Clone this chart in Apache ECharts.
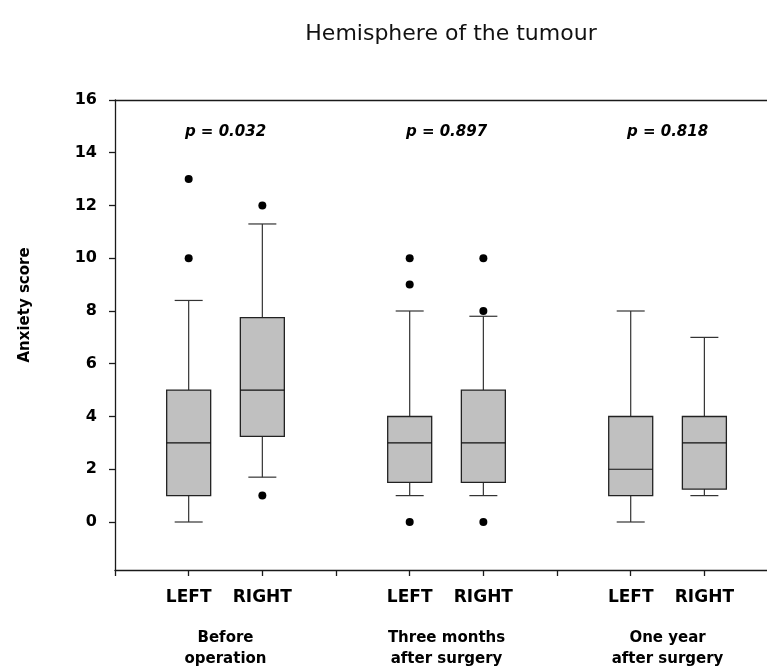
<!DOCTYPE html>
<html>
<head>
<meta charset="utf-8">
<script src="https://cdn.jsdelivr.net/npm/echarts@6/dist/echarts.min.js"></script>
<style>
  html, body { margin: 0; padding: 0; background: #fff; }
  #chart { width: 767px; height: 672px; }
</style>
</head>
<body>
<div id="chart"></div>
<script>
// box positions on the x axis and their labels
const xPos = [1, 2, 4, 5, 7, 8]
const hemis = ['LEFT', 'RIGHT', 'LEFT', 'RIGHT', 'LEFT', 'RIGHT']
const whiskerLow = [0, 1.7, 1, 1, 0, 1]
const q1 = [1, 3.25, 1.5, 1.5, 1, 1.25]
const median = [3, 5, 3, 3, 2, 3]
const q3 = [5, 7.75, 4, 5, 4, 4]
const whiskerHigh = [8.4, 11.3, 8, 7.8, 8, 7]
const outliers = [[1, 13], [1, 10], [2, 12], [2, 1], [4, 10], [4, 9], [4, 0], [5, 10], [5, 8], [5, 0]]

const groupCenters = [1.5, 4.5, 7.5]
const groupNames = ['Before\noperation', 'Three months\nafter surgery', 'One year\nafter surgery']
const pValues = ['p = 0.032', 'p = 0.897', 'p = 0.818']
const pLevel = 14.8

const yTicks = [0, 2, 4, 6, 8, 10, 12, 14, 16]
const xTicks = [0, 1, 2, 3, 4, 5, 6, 7, 8]

const font = 'DejaVu Sans'
const ink = '#1a1a1a'

const chart = echarts.init(document.getElementById('chart'))

const boxData = xPos.map((x, i) => [x, whiskerLow[i], q1[i], median[i], q3[i], whiskerHigh[i]])

const renderBox = (params, api) => {
  const x = api.value(0)
  const lo = api.coord([x, api.value(1)])
  const b1 = api.coord([x, api.value(2)])
  const md = api.coord([x, api.value(3)])
  const b3 = api.coord([x, api.value(4)])
  const hi = api.coord([x, api.value(5)])
  const bw = 22 // half box width
  const cw = 14 // half cap width
  const ls = { stroke: '#333', lineWidth: 1.2 }
  return {
    type: 'group',
    children: [
      { type: 'line', shape: { x1: lo[0], y1: lo[1], x2: b1[0], y2: b1[1] }, style: ls },
      { type: 'line', shape: { x1: b3[0], y1: b3[1], x2: hi[0], y2: hi[1] }, style: ls },
      { type: 'line', shape: { x1: lo[0] - cw, y1: lo[1], x2: lo[0] + cw, y2: lo[1] }, style: ls },
      { type: 'line', shape: { x1: hi[0] - cw, y1: hi[1], x2: hi[0] + cw, y2: hi[1] }, style: ls },
      {
        type: 'rect',
        shape: { x: b3[0] - bw, y: b3[1], width: bw * 2, height: b1[1] - b3[1] },
        style: { fill: '#c0c0c0', stroke: '#222', lineWidth: 1.3 }
      },
      { type: 'line', shape: { x1: md[0] - bw, y1: md[1], x2: md[0] + bw, y2: md[1] }, style: { stroke: '#111', lineWidth: 1.2 } }
    ]
  }
}

const option = {
  animation: false,
  backgroundColor: '#fff',
  title: {
    text: 'Hemisphere of the tumour',
    left: 446,
    textAlign: 'center',
    top: 18,
    textStyle: { fontFamily: font, fontWeight: 'normal', fontSize: 22, color: '#111' }
  },
  grid: { left: 115, right: 0, top: 100, bottom: 102 },
  xAxis: [
    {
      type: 'value',
      min: 0,
      max: 8.85,
      splitLine: { show: false },
      axisLine: { onZero: false, lineStyle: { color: ink, width: 1.3 } },
      axisTick: { customValues: xTicks, length: 6, lineStyle: { color: ink, width: 1.3 } },
      axisLabel: {
        customValues: xPos,
        formatter: (v) => hemis[xPos.indexOf(v)] || '',
        margin: 19,
        fontFamily: font,
        fontWeight: 'bold',
        fontSize: 17,
        color: '#000'
      }
    },
    {
      type: 'value',
      position: 'top',
      min: 0,
      max: 8.85,
      splitLine: { show: false },
      axisLine: { show: true, onZero: false, lineStyle: { color: ink, width: 1.3 } },
      axisTick: { show: false },
      axisLabel: { show: false }
    },
    {
      type: 'value',
      position: 'bottom',
      min: 0,
      max: 8.85,
      splitLine: { show: false },
      axisLine: { show: false, onZero: false },
      axisTick: { show: false },
      axisLabel: {
        customValues: groupCenters,
        formatter: (v) => groupNames[groupCenters.indexOf(v)] || '',
        margin: 58,
        lineHeight: 21,
        fontFamily: font,
        fontWeight: 'bold',
        fontSize: 15,
        color: '#000'
      }
    }
  ],
  yAxis: {
    type: 'value',
    min: -1.82,
    max: 16,
    name: 'Anxiety score',
    nameLocation: 'middle',
    nameGap: 82,
    nameTextStyle: { fontFamily: font, fontWeight: 'bold', fontSize: 15, color: '#000', padding: [0, 0, 0, 60] },
    splitLine: { show: false },
    axisLine: { show: true, lineStyle: { color: ink, width: 1.3 } },
    axisTick: { show: true, customValues: yTicks, length: 6, lineStyle: { color: ink, width: 1.3 } },
    axisLabel: {
      customValues: yTicks,
      margin: 18,
      fontFamily: font,
      fontWeight: 'bold',
      fontSize: 16,
      color: '#000'
    }
  },
  series: [
    {
      type: 'custom',
      renderItem: renderBox,
      data: boxData,
      encode: { x: 0, y: [1, 2, 3, 4, 5] },
      z: 2
    },
    {
      type: 'scatter',
      data: outliers,
      symbol: 'circle',
      symbolSize: 8,
      itemStyle: { color: '#000', opacity: 1 },
      z: 3
    },
    {
      type: 'scatter',
      data: groupCenters.map((x, i) => ({ value: [x, pLevel], name: pValues[i] })),
      symbolSize: 0,
      itemStyle: { opacity: 1 },
      label: {
        show: true,
        position: 'inside',
        formatter: (p) => p.name,
        fontFamily: font,
        fontWeight: 'bold',
        fontStyle: 'italic',
        fontSize: 15,
        color: '#000',
        textBorderWidth: 0
      }
    }
  ]
}

chart.setOption(option)
</script>
</body>
</html>
